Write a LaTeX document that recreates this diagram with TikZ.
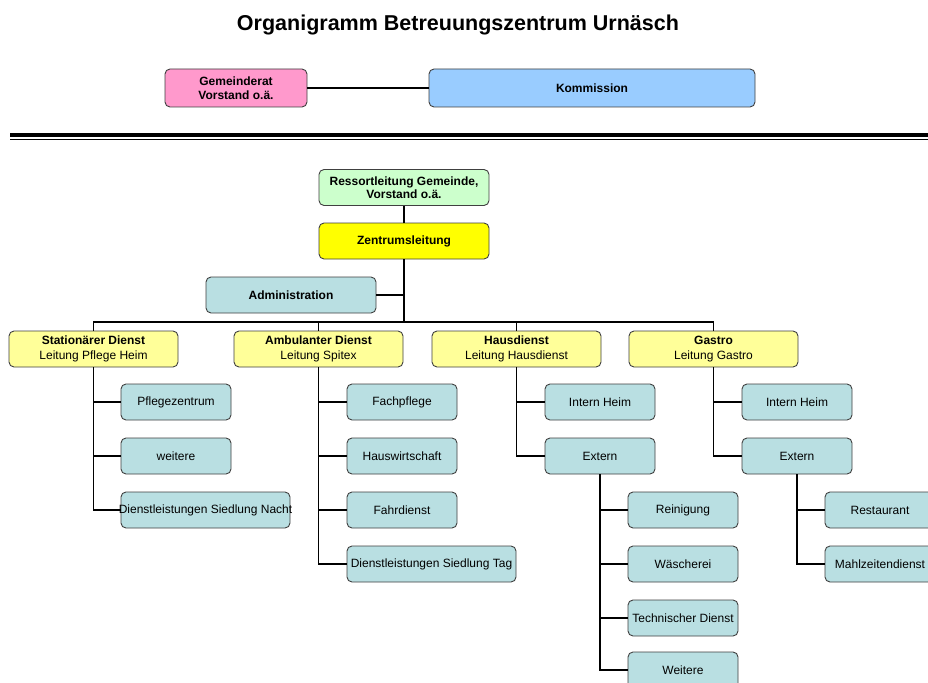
\documentclass[tikz,border=0pt]{standalone}
\usepackage{fontspec}
\setmainfont{Liberation Sans}
\definecolor{pinkc}{HTML}{FF99CC}
\definecolor{bluec}{HTML}{99CCFF}
\definecolor{greenc}{HTML}{CCFFCC}
\definecolor{yellowc}{HTML}{FFFF00}
\definecolor{lyellow}{HTML}{FFFF99}
\definecolor{tealc}{HTML}{B9DFE2}
\definecolor{edgec}{HTML}{404040}
\begin{document}
\begin{tikzpicture}[x=1pt,y=-1pt,
 box/.style={draw=edgec, line width=0.9pt, rounded corners=5pt, inner sep=0pt, align=center, text=black},
 topbox/.style={box, font=\bfseries\fontsize{12}{13.5}\selectfont},
 lead/.style={box, fill=lyellow, minimum width=169pt, minimum height=36pt, font=\fontsize{12}{15}\selectfont},
 unit/.style={box, fill=tealc, minimum width=110pt, minimum height=36pt, font=\fontsize{12}{14}\selectfont},
 wideunit/.style={unit, minimum width=169pt},
 link/.style={line width=1.1pt, black}]
\useasboundingbox (0,0) rectangle (928,682);
\clip (0,0) rectangle (928,682);
\fill[white] (0,0) rectangle (928,682);

% title
\node[font=\bfseries\fontsize{21.5}{25}\selectfont] (title) at (458,25) {Organigramm Betreuungszentrum Urnäsch};

% top row
\node[topbox, fill=pinkc, minimum width=142pt, minimum height=38pt] (gem) at (236,88) {Gemeinderat\\Vorstand o.ä.};
\node[topbox, fill=bluec, minimum width=326pt, minimum height=38pt] (kom) at (592,88) {Kommission};
\draw[link] (gem.east) -- (kom.west);

% double separator
\draw[line width=4pt, black] (10,134.5) -- (928,134.5);
\draw[line width=1.2pt, black] (10,139.5) -- (928,139.5);

% main chain
\node[topbox, fill=greenc, minimum width=170pt, minimum height=36pt] (ress) at (404,187.5) {Ressortleitung Gemeinde,\\Vorstand o.ä.};
\node[topbox, fill=yellowc, minimum width=170pt, minimum height=36pt] (zen) at (404,241) {Zentrumsleitung};
\node[topbox, fill=tealc, minimum width=170pt, minimum height=36pt] (adm) at (291,295) {Administration};
\coordinate (bar) at (404,322);
\draw[link] (ress.south) -- (zen.north);
\draw[link] (zen.south) -- (bar);
\draw[link] (adm.east) -- (adm.east -| zen.south);

% level 2
\node[lead] (stat) at (93.5,349) {\textbf{Stationärer Dienst}\\Leitung Pflege Heim};
\node[lead] (amb) at (318.5,349) {\textbf{Ambulanter Dienst}\\Leitung Spitex};
\node[lead] (haus) at (516.5,349) {\textbf{Hausdienst}\\Leitung Hausdienst};
\node[lead] (gas) at (713.5,349) {\textbf{Gastro}\\Leitung Gastro};
\foreach \n in {stat,amb,haus,gas} {\draw[link] (\n.north) |- (bar);}

% Stationaerer Dienst
\node[unit] (pz) at (176,402) {Pflegezentrum};
\node[unit] (wei) at (176,456) {weitere};
\node[wideunit] (dsn) at (205.5,510) {\makebox[169pt][c]{Dienstleistungen Siedlung Nacht}};
\foreach \c in {pz,wei,dsn} {\draw[link] (stat.south) |- (\c.west);}

% Ambulanter Dienst
\node[unit] (fp) at (402,402) {Fachpflege};
\node[unit] (hw) at (402,456) {Hauswirtschaft};
\node[unit] (fd) at (402,510) {Fahrdienst};
\node[wideunit] (dst) at (431.5,564) {Dienstleistungen Siedlung Tag};
\foreach \c in {fp,hw,fd,dst} {\draw[link] (amb.south) |- (\c.west);}

% Hausdienst
\node[unit] (hih) at (600,402) {Intern Heim};
\node[unit] (hex) at (600,456) {Extern};
\foreach \c in {hih,hex} {\draw[link] (haus.south) |- (\c.west);}
\node[unit] (rei) at (683,510) {Reinigung};
\node[unit] (was) at (683,564) {Wäscherei};
\node[unit] (tec) at (683,618) {Technischer Dienst};
\node[unit] (hwe) at (683,670) {Weitere};
\foreach \c in {rei,was,tec,hwe} {\draw[link] (hex.south) |- (\c.west);}

% Gastro
\node[unit] (gih) at (797,402) {Intern Heim};
\node[unit] (gex) at (797,456) {Extern};
\foreach \c in {gih,gex} {\draw[link] (gas.south) |- (\c.west);}
\node[unit] (res) at (880,510) {Restaurant};
\node[unit] (mzd) at (880,564) {Mahlzeitendienst};
\foreach \c in {res,mzd} {\draw[link] (gex.south) |- (\c.west);}
\end{tikzpicture}
\end{document}
